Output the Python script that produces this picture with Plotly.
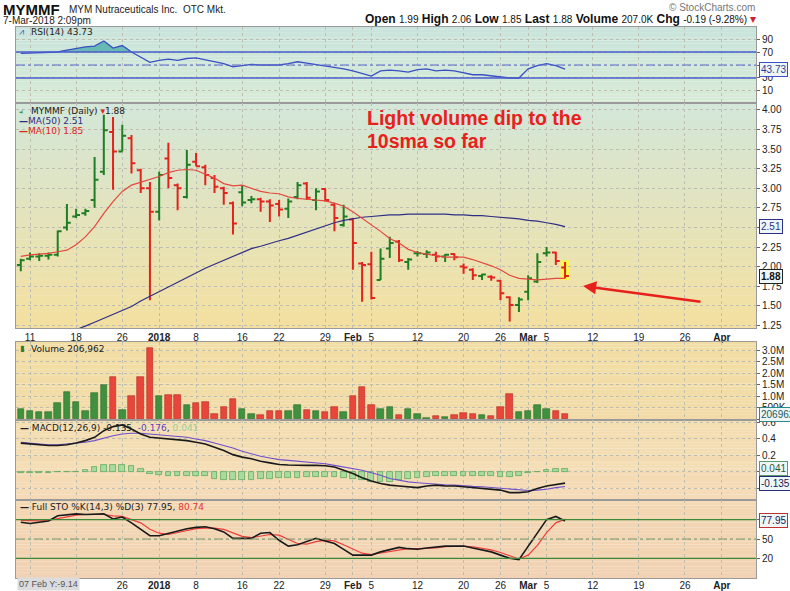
import plotly.graph_objects as go

# ---------------- data ----------------
dates = ["2017-12-08", "2017-12-11", "2017-12-12", "2017-12-13", "2017-12-14", "2017-12-15",
         "2017-12-18", "2017-12-19", "2017-12-20", "2017-12-21", "2017-12-22",
         "2017-12-26", "2017-12-27", "2017-12-28", "2017-12-29",
         "2018-01-02", "2018-01-03", "2018-01-04", "2018-01-05",
         "2018-01-08", "2018-01-09", "2018-01-10", "2018-01-11", "2018-01-12",
         "2018-01-16", "2018-01-17", "2018-01-18", "2018-01-19",
         "2018-01-22", "2018-01-23", "2018-01-24", "2018-01-25", "2018-01-26",
         "2018-01-29", "2018-01-30", "2018-01-31", "2018-02-01", "2018-02-02",
         "2018-02-05", "2018-02-06", "2018-02-07", "2018-02-08", "2018-02-09",
         "2018-02-12", "2018-02-13", "2018-02-14", "2018-02-15", "2018-02-16",
         "2018-02-20", "2018-02-21", "2018-02-22", "2018-02-23",
         "2018-02-26", "2018-02-27", "2018-02-28", "2018-03-01", "2018-03-02",
         "2018-03-05", "2018-03-06", "2018-03-07"]

opens = [2.02, 2.10, 2.13, 2.14, 2.15, 2.50, 2.64, 2.68, 2.85, 3.21,
         3.72, 3.47, 3.64, 3.23, 3.00, 2.70, 3.38, 3.04, 2.89, 3.34,
         3.27, 3.13, 3.00, 2.81, 2.95, 2.85, 2.86, 2.83, 2.80, 2.74,
         2.89, 3.06, 2.85, 2.99, 2.79, 2.53, 2.60, 2.04, 2.03, 1.83,
         2.23, 2.32, 2.06, 2.17, 2.16, 2.15, 2.13, 2.16, 2.00, 1.96,
         1.88, 1.87, 1.82, 1.61, 1.51, 1.68, 1.81, 2.17, 2.18, 1.99]
highs = [2.10, 2.18, 2.17, 2.18, 2.46, 2.80, 2.74, 2.74, 3.40, 3.94,
         3.91, 3.81, 3.68, 3.25, 3.08, 3.21, 3.58, 3.06, 3.49, 3.45,
         3.30, 3.17, 3.02, 2.83, 3.04, 2.90, 2.88, 2.86, 2.85, 2.87,
         3.08, 3.08, 3.00, 3.00, 2.81, 2.79, 2.62, 2.06, 2.19, 2.23,
         2.38, 2.34, 2.11, 2.20, 2.21, 2.19, 2.16, 2.17, 2.04, 1.98,
         1.91, 1.89, 1.83, 1.62, 1.61, 1.89, 2.17, 2.25, 2.19, 2.06]
lows = [1.94, 2.08, 2.07, 2.09, 2.13, 2.46, 2.62, 2.65, 2.75, 3.17,
        2.98, 3.47, 3.19, 2.94, 1.57, 2.59, 3.00, 2.72, 2.87, 3.28,
        3.04, 2.94, 2.79, 2.41, 2.77, 2.81, 2.70, 2.57, 2.64, 2.62,
        2.86, 2.85, 2.72, 2.83, 2.45, 2.51, 1.96, 1.55, 1.58, 1.83,
        2.11, 2.06, 1.96, 2.13, 2.11, 2.06, 2.06, 2.08, 1.91, 1.83,
        1.83, 1.82, 1.57, 1.30, 1.42, 1.57, 1.79, 2.13, 2.02, 1.85]
closes = [2.08, 2.13, 2.14, 2.15, 2.45, 2.56, 2.66, 2.71, 3.11, 3.74,
          3.47, 3.67, 3.32, 3.00, 2.70, 3.17, 3.13, 3.00, 3.30, 3.28,
          3.17, 3.02, 2.94, 2.55, 2.82, 2.86, 2.83, 2.78, 2.73, 2.83,
          3.04, 2.88, 2.96, 2.85, 2.62, 2.64, 2.30, 2.02, 1.60, 2.10,
          2.30, 2.08, 2.09, 2.17, 2.18, 2.13, 2.15, 2.12, 1.99, 1.89,
          1.90, 1.86, 1.66, 1.51, 1.58, 1.85, 2.06, 2.18, 2.07, 1.88]
volume = [460000, 350000, 290000, 290000, 710000, 1190000, 760000, 350000, 1120000, 1480000,
          1840000, 390000, 1000000, 1840000, 3070000, 1000000, 1040000, 1040000, 610000, 710000,
          760000, 220000, 510000, 870000, 460000, 220000, 170000, 350000, 350000, 350000,
          610000, 390000, 350000, 290000, 510000, 290000, 1000000, 1380000, 610000, 460000,
          540000, 170000, 430000, 220000, 60000, 140000, 100000, 170000, 250000, 220000,
          170000, 130000, 510000, 1090000, 320000, 360000, 610000, 460000, 360000, 206962]
ma10 = [2.13, 2.15, 2.16, 2.17, 2.19, 2.21, 2.28, 2.38, 2.51, 2.68,
        2.83, 2.96, 3.04, 3.08, 3.11, 3.15, 3.20, 3.23, 3.24, 3.23,
        3.18, 3.13, 3.06, 3.03, 3.04, 3.00, 2.96, 2.94, 2.93, 2.89,
        2.87, 2.86, 2.85, 2.84, 2.81, 2.77, 2.70, 2.62, 2.53, 2.45,
        2.36, 2.30, 2.22, 2.18, 2.16, 2.14, 2.12, 2.12, 2.12, 2.09,
        2.05, 2.01, 1.96, 1.89, 1.85, 1.84, 1.83, 1.84, 1.85, 1.85]
ma50 = [None, None, None, None, None, 1.15, 1.19, 1.24, 1.29, 1.34,
        1.39, 1.44, 1.49, 1.56, 1.62, 1.68, 1.74, 1.80, 1.87, 1.92,
        1.98, 2.03, 2.08, 2.14, 2.19, 2.23, 2.26, 2.30, 2.33, 2.36,
        2.40, 2.44, 2.48, 2.52, 2.56, 2.59, 2.61, 2.63, 2.64, 2.65,
        2.66, 2.66, 2.67, 2.67, 2.67, 2.67, 2.67, 2.66, 2.66, 2.65,
        2.65, 2.64, 2.63, 2.62, 2.61, 2.59, 2.58, 2.56, 2.54, 2.51]
rsi = [68, 68.5, 69, 69.5, 70, 73, 76, 78, 79, 87,
       76, 80, 70, 62, 54, 57, 59, 57, 60, 61,
       58, 55, 52, 47, 49, 51, 50, 50, 50, 52,
       55, 53, 51, 48, 46, 44, 41, 37, 33, 41,
       42, 41, 39, 43, 44, 41, 42, 41, 38, 35,
       35, 33, 31, 30, 30, 44, 49, 52, 49, 43.73]
macd = [0.35, 0.34, 0.33, 0.32, 0.32, 0.33, 0.35, 0.38, 0.42, 0.50,
        0.55, 0.57, 0.52, 0.46, 0.42, 0.41, 0.40, 0.39, 0.38, 0.36,
        0.34, 0.30, 0.26, 0.21, 0.18, 0.16, 0.13, 0.11, 0.09, 0.085,
        0.08, 0.08, 0.08, 0.075, 0.06, 0.02, -0.02, -0.07, -0.11, -0.14,
        -0.16, -0.17, -0.18, -0.19, -0.17, -0.16, -0.17, -0.17, -0.18, -0.19,
        -0.20, -0.21, -0.22, -0.25, -0.25, -0.24, -0.20, -0.17, -0.15, -0.135]
signal = [0.36, 0.35, 0.34, 0.33, 0.33, 0.34, 0.35, 0.36, 0.38, 0.41,
          0.44, 0.46, 0.47, 0.47, 0.46, 0.45, 0.44, 0.43, 0.42, 0.40,
          0.38, 0.35, 0.32, 0.29, 0.25, 0.22, 0.19, 0.17, 0.15, 0.14,
          0.13, 0.12, 0.11, 0.10, 0.08, 0.06, 0.045, 0.02, -0.01, -0.04,
          -0.08, -0.10, -0.12, -0.13, -0.14, -0.15, -0.155, -0.16, -0.17, -0.175,
          -0.18, -0.19, -0.20, -0.21, -0.22, -0.225, -0.22, -0.21, -0.19, -0.176]
hist = [-0.01, -0.012, -0.012, -0.01, -0.005, 0.0, 0.005, 0.02, 0.06, 0.085,
        0.09, 0.09, 0.07, 0.035, -0.03, -0.035, -0.045, -0.045, -0.045, -0.05,
        -0.055, -0.08, -0.10, -0.10, -0.10, -0.10, -0.09, -0.09, -0.075, -0.07,
        -0.07, -0.06, -0.06, -0.06, -0.065, -0.075, -0.09, -0.10, -0.12, -0.12,
        -0.12, -0.10, -0.09, -0.07, -0.06, -0.055, -0.055, -0.055, -0.055, -0.055,
        -0.055, -0.055, -0.06, -0.06, -0.055, -0.01, -0.005, 0.02, 0.035, 0.041]
sto_k = [76, 74, 76, 78, 86, 87, 89, 88, 88, 89,
         81, 84, 75, 65, 55, 55, 59, 63, 66, 68,
         69, 66, 61, 51, 51, 51, 59, 60, 48, 39,
         41, 46, 51, 47, 43, 34, 25, 25, 25, 30,
         33, 37, 35, 34, 36, 38, 39, 39, 39, 36,
         33, 30, 25, 20, 18, 38, 60, 80, 85, 77.95]
sto_d = [79, 78, 78, 79, 82, 85, 87, 88, 88, 88,
         86, 85, 80, 75, 65, 59, 57, 60, 63, 66,
         67, 67, 65, 59, 54, 52, 55, 57, 56, 49,
         43, 42, 46, 48, 47, 41, 34, 28, 26, 28,
         30, 33, 35, 35, 35, 36, 38, 39, 39, 38,
         36, 33, 29, 24, 19, 25, 40, 60, 75, 80.74]

# x-axis ticks (trading-day index, incl. future sessions) and labels
tick_idx = [1, 6, 11, 15, 19, 24, 28, 33, 36, 38, 43, 48, 52, 55, 57, 62, 67, 72, 76]
tick_labels = ["11", "18", "26", "<b>2018</b>", "8", "16", "22", "29", "<b>Feb</b>", "5",
               "12", "20", "26", "<b>Mar</b>", "5", "12", "19", "26", "<b>Apr</b>"]
# bottom axis: first two labels sit under the cursor read-out box
tick_labels_bottom = ["", ""] + tick_labels[2:]
price_ticks = [1.25, 1.50, 1.75, 2.00, 2.25, 2.50, 2.75, 3.00, 3.25, 3.50, 3.75, 4.00]
price_tick_labels = ["1.25", "1.50", "1.75", "2.00", "2.25", "", "2.75", "3.00", "3.25", "3.50", "3.75", "4.00"]
vol_ticks = [0, 500000, 1000000, 1500000, 2000000, 2500000, 3000000]
vol_tick_labels = ["", "500K", "1.0M", "1.5M", "2.0M", "2.5M", "3.0M"]
rsi_ticks = [10, 30, 50, 70, 90]
rsi_tick_labels = ["10", "30", "", "70", "90"]
macd_ticks = [-0.2, 0.0, 0.2, 0.4, 0.6]
macd_tick_labels = ["", "", "0.2", "0.4", "0.6"]
sto_ticks = [20, 50, 80]
sto_tick_labels = ["20", "50", ""]

# ---------------- geometry helpers ----------------
W, H = 790, 591
LM, RM, TM, BM = 16, 34, 27, 13
PW, PH = W - LM - RM, H - TM - BM


def px2x(px):
    return (px - LM) / PW


def px2y(py):
    return (H - BM - py) / PH


dom = {
    "rsi": [px2y(103), px2y(27)],
    "price": [px2y(328), px2y(103)],
    "vol": [px2y(420), px2y(342)],
    "macd": [px2y(500), px2y(420)],
    "sto": [0.0, px2y(500)],
}
XR = [-0.52, 79.7]

n = len(closes)
xs = list(range(n))
prev = [opens[0]] + closes[:-1]
up = [closes[i] >= prev[i] for i in range(n)]

GREEN = "#1f7d24"
RED = "#e2231c"
VGREEN, VGREEN_L = "#3f9140", "#2a6a2a"
VRED, VRED_L = "#e9463b", "#b02a20"

fig = go.Figure()

# ----- RSI -----
fig.add_trace(go.Scatter(x=xs, y=[70] * n, mode="lines", line=dict(width=0),
                         xaxis="x", yaxis="y", hoverinfo="skip"))
fig.add_trace(go.Scatter(x=xs, y=[max(v, 70) for v in rsi], mode="lines", line=dict(width=0),
                         fill="tonexty", fillcolor="rgba(70,170,165,0.75)",
                         xaxis="x", yaxis="y", hoverinfo="skip"))
fig.add_trace(go.Scatter(x=xs, y=rsi, mode="lines", line=dict(color="#3a4fc4", width=1.3),
                         xaxis="x", yaxis="y"))

# ----- Price -----
fig.add_trace(go.Scatter(x=xs, y=ma50, mode="lines", line=dict(color="#2e2e86", width=1.2),
                         xaxis="x2", yaxis="y2"))
fig.add_trace(go.Scatter(x=xs, y=ma10, mode="lines", line=dict(color="#e2483e", width=1.2),
                         xaxis="x2", yaxis="y2"))
for flag, col in ((True, GREEN), (False, RED)):
    idx = [i for i in range(n) if up[i] == flag]
    fig.add_trace(go.Ohlc(
        x=[xs[i] for i in idx], open=[opens[i] for i in idx], high=[highs[i] for i in idx],
        low=[lows[i] for i in idx], close=[closes[i] for i in idx],
        increasing=dict(line=dict(color=col, width=2)),
        decreasing=dict(line=dict(color=col, width=2)),
        tickwidth=0.42, xaxis="x2", yaxis="y2", text=[dates[i] for i in idx]))

# ----- Volume -----
fig.add_trace(go.Bar(x=xs, y=volume, width=0.7,
                     marker=dict(color=[VGREEN if u else VRED for u in up],
                                 line=dict(color=[VGREEN_L if u else VRED_L for u in up], width=0.6)),
                     xaxis="x3", yaxis="y3"))

# ----- MACD -----
fig.add_trace(go.Bar(x=xs, y=hist, width=0.62,
                     marker=dict(color="#a9dba0", line=dict(color="#5faa5f", width=0.8)),
                     xaxis="x4", yaxis="y4"))
fig.add_trace(go.Scatter(x=xs, y=signal, mode="lines", line=dict(color="#7050cc", width=1.1),
                         xaxis="x4", yaxis="y4"))
fig.add_trace(go.Scatter(x=xs, y=macd, mode="lines", line=dict(color="#1a1a1a", width=1.6),
                         xaxis="x4", yaxis="y4"))

# ----- STO -----
fig.add_trace(go.Scatter(x=xs, y=sto_d, mode="lines", line=dict(color="#f03c3c", width=1.2),
                         xaxis="x5", yaxis="y5"))
fig.add_trace(go.Scatter(x=xs, y=sto_k, mode="lines", line=dict(color="#1a1a1a", width=1.6),
                         xaxis="x5", yaxis="y5"))

# ---------------- shapes ----------------
shapes = []


def hexrgb(h):
    h = h.lstrip("#")
    return tuple(int(h[i:i + 2], 16) for i in (0, 2, 4))


def gradient(yref, top, bot, steps=28):
    t, b = hexrgb(top), hexrgb(bot)
    for k in range(steps):
        f = (k + 0.5) / steps
        c = tuple(round(b[j] + (t[j] - b[j]) * f) for j in range(3))
        shapes.append(dict(type="rect", xref="paper", yref=yref + " domain", x0=0, x1=1,
                           y0=k / steps, y1=min(1.0, (k + 1) / steps + 0.002), layer="below",
                           line=dict(width=0), fillcolor="rgb(%d,%d,%d)" % c))


gradient("y", "#c9e4dc", "#d7ebd6")
gradient("y2", "#d3e7d9", "#f4e0a0")
gradient("y3", "#f2dea4", "#f2dba8")
gradient("y4", "#f3deb0", "#f4dab6")
gradient("y5", "#f3d8b2", "#f1d2b4")

# last-bar highlight
shapes.append(dict(type="rect", xref="x2", yref="y2", x0=xs[-1] - 0.48, x1=xs[-1] + 0.48,
                   y0=lows[-1] - 0.02, y1=highs[-1] + 0.02, layer="below",
                   line=dict(width=0), fillcolor="#fdf84a"))

# reference lines
for v in (70, 30):
    shapes.append(dict(type="line", xref="paper", yref="y", x0=0, x1=1, y0=v, y1=v,
                       line=dict(color="#4a5ccc", width=1.3)))
shapes.append(dict(type="line", xref="paper", yref="y", x0=0, x1=1, y0=50, y1=50,
                   line=dict(color="#5a6cd0", width=1.2, dash="dashdot")))
for v in (80, 20):
    shapes.append(dict(type="line", xref="paper", yref="y5", x0=0, x1=1, y0=v, y1=v,
                       line=dict(color="#3a8a3a", width=1.2)))
shapes.append(dict(type="line", xref="paper", yref="y5", x0=0, x1=1, y0=50, y1=50,
                   line=dict(color="#7f9a6e", width=1.2, dash="dashdot")))

# ---------------- axes ----------------
TICKFONT = dict(family="Liberation Sans, Arial", size=10, color="#222")
GRID = "#bdbdb0"


def xax(anchor, labels, texts=tick_labels, standoff=None):
    a = dict(domain=[0, 1], anchor=anchor, range=XR, tickmode="array", tickvals=tick_idx,
             ticktext=texts, showticklabels=labels, tickfont=TICKFONT,
             showgrid=True, gridcolor=GRID, griddash="dot", gridwidth=1,
             showline=True, mirror=True, linecolor="#9a9a9a", linewidth=1,
             ticks="", zeroline=False, automargin=False, rangeslider=dict(visible=False))
    if standoff is not None:
        a["ticklabelstandoff"] = standoff
    return a


def yax(anchor, d, rng, tv, tt):
    return dict(domain=d, anchor=anchor, range=rng, side="right", tickmode="array", tickvals=tv,
                ticktext=tt, tickfont=TICKFONT, ticks="outside", ticklen=3, tickcolor="#666",
                showgrid=True, gridcolor=GRID, griddash="dot", gridwidth=1, automargin=False,
                showline=True, mirror=True, linecolor="#9a9a9a", linewidth=1, zeroline=False)


layout = dict(
    width=W, height=H, margin=dict(l=LM, r=RM, t=TM, b=BM, autoexpand=False),
    paper_bgcolor="white", plot_bgcolor="white", showlegend=False,
    bargap=0, shapes=shapes,
    xaxis=xax("y", False), xaxis2=xax("y2", True), xaxis3=xax("y3", False),
    xaxis4=xax("y4", False), xaxis5=xax("y5", True, tick_labels_bottom, -2),
    yaxis=yax("x", dom["rsi"], [-8.5, 108.5], rsi_ticks, rsi_tick_labels),
    yaxis2=yax("x2", dom["price"], [1.216, 4.089], price_ticks, price_tick_labels),
    yaxis3=yax("x3", dom["vol"], [-40000, 3350000], vol_ticks, vol_tick_labels),
    yaxis4=yax("x4", dom["macd"], [-0.34, 0.63], macd_ticks, macd_tick_labels),
    yaxis5=yax("x5", dom["sto"], [-10.5, 110.5], sto_ticks, sto_tick_labels),
)
for k in ("xaxis2", "xaxis3", "xaxis4", "xaxis5"):
    layout[k]["matches"] = "x"
fig.update_layout(**layout)

# ---------------- annotations ----------------
ann = []
SANS = "Liberation Sans, Arial"
VERD = "DejaVu Sans, Verdana"


def text(px, py, s, size=10, color="#111", family=SANS, xanchor="left", **kw):
    d = dict(xref="paper", yref="paper", x=px2x(px), y=px2y(py), text=s, showarrow=False,
             xanchor=xanchor, yanchor="middle", font=dict(family=family, size=size, color=color))
    d.update(kw)
    ann.append(d)


text(1, 10, "<b>MYMMF</b>", size=15, color="#111")
text(67, 10, "MYM Nutraceuticals Inc.  OTC Mkt.", size=10, color="#222")
text(1, 21, "7-Mar-2018 2:09pm", size=10, color="#222")
text(757, 7, "© StockCharts.com", size=10, color="#777", xanchor="right")
sv = "<span style='font-size:10px;font-weight:normal'>%s</span>"
hdr = ("<b>Open</b> " + sv % "1.99" + " <b>High</b> " + sv % "2.06" + " <b>Low</b> " + sv % "1.85" +
       " <b>Last</b> " + sv % "1.88" + " <b>Volume</b> " + sv % "207.0K" + " <b>Chg</b> " +
       sv % "-0.19 (-9.28%)" + " <span style='color:#d02030'>▾</span>")
text(758, 19, hdr, size=12, color="#111", xanchor="right")

text(29, 32, "RSI(14) 43.73", size=9, family=VERD, color="#222")
text(17, 32, "<span style='color:#3a4fc4'>⩘</span>", size=9, family=VERD)
text(29, 111, "MYMMF (Daily) <span style='color:#e2231c'>▾</span>1.88", size=9, family=VERD, color="#222")
text(17, 111, "<span style='color:#1f7d24'>⫞</span>", size=8, family=VERD)
text(17, 121, "<b>—</b>MA(50) 2.51", size=9, family=VERD, color="#2e2e86")
text(17, 131, "<b>—</b>MA(10) 1.85", size=9, family=VERD, color="#e2231c")
text(29, 349, "Volume 206,962", size=9, family=VERD, color="#222")
text(18, 349, "<span style='color:#2a7a2a'>▮</span>", size=8, family=VERD)
text(18, 428, "<b>—</b> MACD(12,26,9) -0.135, <span style='color:#6040c4'>-0.176</span>, "
     "<span style='color:#9ccc94'>0.041</span>", size=9, family=VERD, color="#222")
text(18, 507, "<b>—</b> Full STO %K(14,3) %D(3) 77.95, <span style='color:#e83030'>80.74</span>",
     size=9, family=VERD, color="#222")
text(17, 584, "07 Feb Y:-9.14", size=9, color="#555", bgcolor="#dcdcdc", borderpad=1)

# big red comment
text(365, 118, "<b>Light volume dip to the</b>", size=19.5, color="#e8201c")
text(365, 141, "<b>10sma so far</b>", size=19.5, color="#e8201c")

# red arrow
ann.append(dict(xref="paper", yref="paper", x=px2x(583), y=px2y(286), ax=119, ay=16,
                text="", showarrow=True, arrowhead=2, arrowsize=1.1, arrowwidth=2.4,
                arrowcolor="#e8201c"))


def tag(yref, val, s, border, color, bold=False):
    ann.append(dict(xref="paper", yref=yref, x=1.0, y=val, xanchor="left", yanchor="middle",
                    xshift=3, text=("<b>%s</b>" % s) if bold else s, showarrow=False,
                    bordercolor=border, borderwidth=1, borderpad=1, bgcolor="#eef6f8",
                    font=dict(family=SANS, size=10, color=color)))


tag("y", rsi[-1], "43.73", "#3a4fc4", "#2a3a9a")
tag("y2", ma50[-1], "2.51", "#2e2e86", "#2e2e86")
tag("y2", closes[-1], "1.88", "#222", "#111", bold=True)
tag("y3", volume[-1], "206962", "#2a8a8a", "#1a5a5a")
tag("y4", hist[-1], "0.041", "#5a9a6a", "#2a5a3a")
tag("y4", macd[-1], "-0.135", "#2a2a7a", "#1a1a5a")
tag("y5", sto_k[-1], "77.95", "#c03030", "#1a1a5a")

fig.update_layout(annotations=ann)
fig.write_html("out.html", config={"displayModeBar": False},
               post_script="document.body.style.margin='0px';document.body.style.overflow='hidden';")
